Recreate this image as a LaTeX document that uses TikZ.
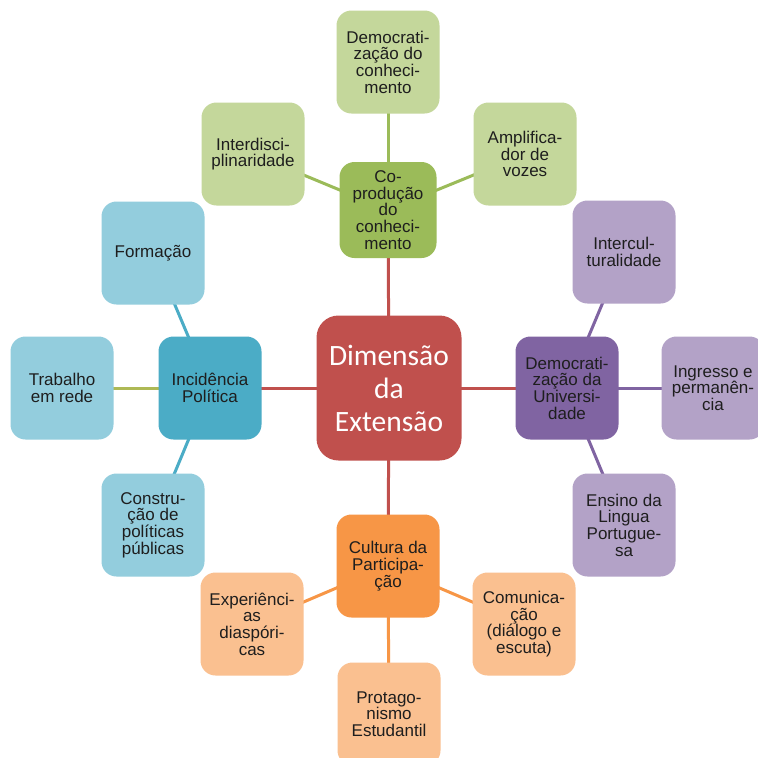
\documentclass[tikz,border=0pt]{standalone}
\usepackage{fontspec}
\setmainfont{Liberation Sans}
\newfontfamily\calibrifont{Carlito}
\usetikzlibrary{backgrounds}

% Office-style palette
\definecolor{redhub}{HTML}{C0504D}
\definecolor{greenhub}{HTML}{9BBB59}
\definecolor{greenleaf}{HTML}{C4D79B}
\definecolor{purplehub}{HTML}{8064A2}
\definecolor{purpleleaf}{HTML}{B3A2C7}
\definecolor{bluehub}{HTML}{4BACC6}
\definecolor{blueleaf}{HTML}{93CDDD}
\definecolor{orangehub}{HTML}{F79646}
\definecolor{orangeleaf}{HTML}{FAC090}
\definecolor{olivelink}{HTML}{AEB955}
\definecolor{inktext}{HTML}{1E1E1E}

\tikzset{
  box/.style={rectangle, rounded corners=15pt, minimum width=103pt, minimum height=103pt,
    inner sep=2pt, align=center, text=inktext,
    font=\fontsize{17}{16.7}\selectfont},
  core/.style={box, fill=redhub, minimum width=145pt, minimum height=145pt,
    rounded corners=22pt, text=white, font=\calibrifont\fontsize{29.5}{33}\selectfont},
  link/.style={line width=3pt},
}

\begin{document}
\begin{tikzpicture}[x=1pt, y=-1pt]
  \useasboundingbox (0,0) rectangle (758,758);

  % centre
  \node[core] (dim) at (389,388) {Dimensão\\da\\Extensão};

  % green branch
  \node[box, fill=greenhub, minimum width=97pt, minimum height=96pt] (cop) at (388,210) {Co-\\produção\\do\\conheci-\\mento};
  \node[box, fill=greenleaf] (dcon) at (388,62) {Democrati-\\zação do\\conheci-\\mento};
  \node[box, fill=greenleaf] (inter) at (253,154) {Interdisci-\\plinaridade};
  \node[box, fill=greenleaf] (ampl) at (525,154) {Amplifica-\\dor de\\vozes};

  % purple branch
  \node[box, fill=purplehub] (duni) at (567,388) {Democrati-\\zação da\\Universi-\\dade};
  \node[box, fill=purpleleaf] (icult) at (624,252) {Intercul-\\turalidade};
  \node[box, fill=purpleleaf] (ingr) at (713,388) {Ingresso e\\permanên-\\cia};
  \node[box, fill=purpleleaf] (ensi) at (624,525) {Ensino da\\Lingua\\Portugue-\\sa};

  % blue branch
  \node[box, fill=bluehub] (inc) at (210,388) {Incidência\\Política};
  \node[box, fill=blueleaf] (form) at (153,253) {Formação};
  \node[box, fill=blueleaf] (trab) at (62,388) {Trabalho\\em rede};
  \node[box, fill=blueleaf] (cons) at (153,525) {Constru-\\ção de\\políticas\\públicas};

  % orange branch
  \node[box, fill=orangehub] (cult) at (388,566) {Cultura da\\Participa-\\ção};
  \node[box, fill=orangeleaf] (expe) at (252,624) {Experiênci-\\as\\diaspóri-\\cas};
  \node[box, fill=orangeleaf] (comu) at (524,624) {Comunica-\\ção\\(diálogo e\\escuta)};
  \node[box, fill=orangeleaf] (prot) at (389,714) {Protago-\\nismo\\Estudantil};

  % white page and connectors behind the boxes
  \begin{scope}[on background layer]
    \fill[white] (0,0) rectangle (758,758);

    \draw[link, redhub] (dim.center) -- (cop.center);
    \draw[link, redhub] (dim.center) -- (duni.center);
    \draw[link, redhub] (dim.center) -- (inc.center);
    \draw[link, redhub] (dim.center) -- (cult.center);

    \draw[link, greenhub] (cop.center) -- (dcon.center);
    \draw[link, greenhub] (cop.center) -- (inter.center);
    \draw[link, greenhub] (cop.center) -- (ampl.center);

    \draw[link, purplehub] (duni.center) -- (icult.center);
    \draw[link, purplehub] (duni.center) -- (ingr.center);
    \draw[link, purplehub] (duni.center) -- (ensi.center);

    \draw[link, bluehub] (inc.center) -- (form.center);
    \draw[link, olivelink] (inc.center) -- (trab.center);
    \draw[link, bluehub] (inc.center) -- (cons.center);

    \draw[link, orangehub] (cult.center) -- (expe.center);
    \draw[link, orangehub] (cult.center) -- (comu.center);
    \draw[link, orangehub] (cult.center) -- (prot.center);
  \end{scope}
\end{tikzpicture}
\end{document}
